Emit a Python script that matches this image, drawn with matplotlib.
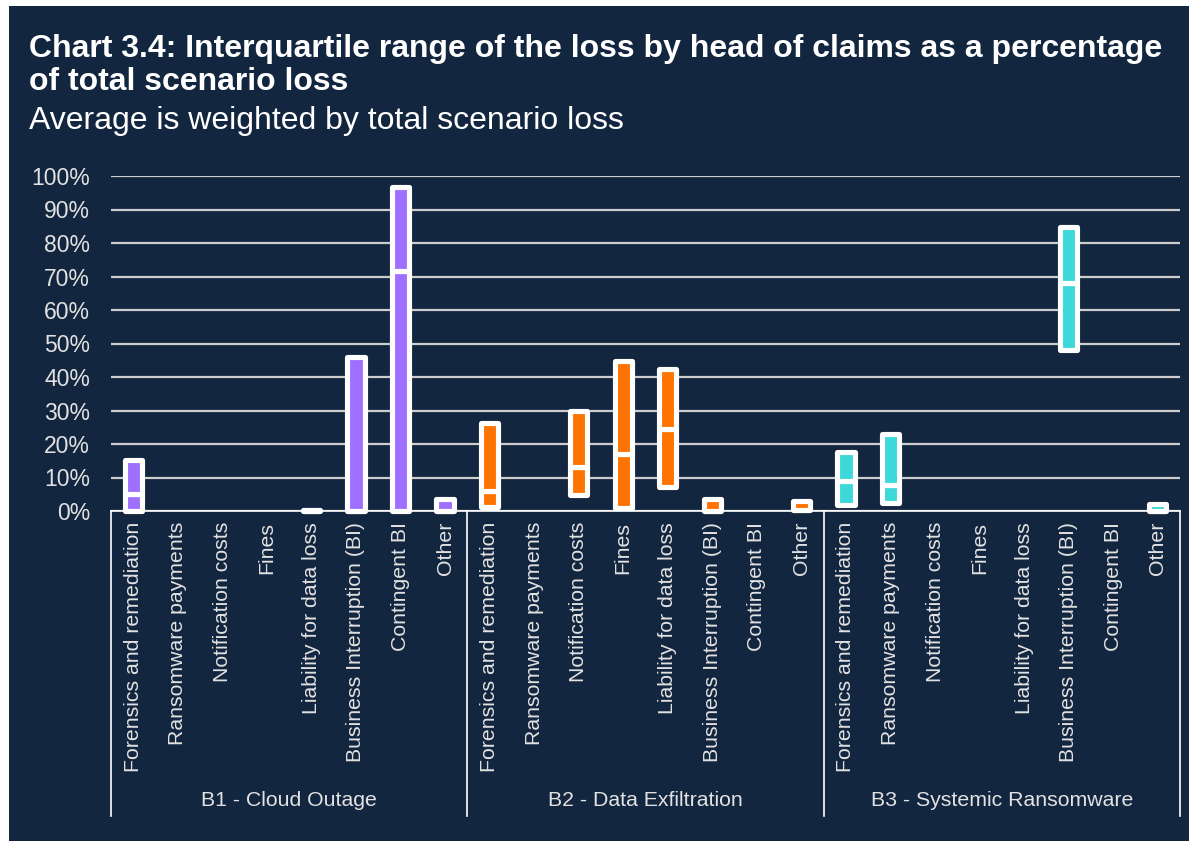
import numpy as np
import matplotlib.pyplot as plt
from matplotlib.patches import Rectangle

nan = np.nan

# --- data ---
categories = ["Forensics and remediation", "Ransomware payments", "Notification costs",
              "Fines", "Liability for data loss", "Business Interruption (BI)",
              "Contingent BI", "Other"]
scenarios = ["B1 - Cloud Outage", "B2 - Data Exfiltration", "B3 - Systemic Ransomware"]

# interquartile range (% of total scenario loss): lower quartile, median, upper quartile
b1_q1 = [0.0, nan, nan, nan, 0.0, 0.0, 0.0, 0.0]
b1_med = [5.0, nan, nan, nan, 0.0, 0.0, 71.5, 0.0]
b1_q3 = [15.3, nan, nan, nan, 0.3, 46.0, 96.8, 3.5]

b2_q1 = [1.3, nan, 4.9, 0.8, 7.3, 0.1, nan, 0.2]
b2_med = [6.1, nan, 13.2, 16.9, 24.5, 0.1, nan, 0.2]
b2_q3 = [26.2, nan, 30.0, 44.8, 42.4, 3.5, nan, 3.0]

b3_q1 = [1.8, 2.4, nan, nan, nan, 48.0, nan, 0.1]
b3_med = [9.0, 7.8, nan, nan, nan, 68.0, nan, 0.1]
b3_q3 = [17.6, 23.0, nan, nan, nan, 84.9, nan, 2.0]

colors = ["#9F70FF", "#FF7300", "#3DD8D9"]
navy = "#13263F"

plt.rcParams['font.family'] = ['Liberation Sans', 'DejaVu Sans']

fig = plt.figure(figsize=(11.89, 8.41), dpi=100)
fig.patch.set_facecolor("white")
fig.patches.append(Rectangle((9 / 1189, 0), 1 - 9 / 1189, 1 - 6 / 841,
                             transform=fig.transFigure, facecolor=navy,
                             edgecolor="none", zorder=-10))

W, H = 1189, 841
ax = fig.add_axes([111 / W, 1 - 511 / H, (1180 - 111) / W, (511 - 176) / H])
ax.set_facecolor("none")

groups = [(b1_q1, b1_med, b1_q3), (b2_q1, b2_med, b2_q3), (b3_q1, b3_med, b3_q3)]
n = len(categories)
for g, (q1, med, q3) in enumerate(groups):
    x = np.arange(n) + g * n
    q1 = np.array(q1); med = np.array(med); q3 = np.array(q3)
    keep = ~np.isnan(q1)
    kw = dict(width=0.39, color=colors[g], edgecolor="white", linewidth=3.7,
              joinstyle="round", clip_on=False, zorder=3)
    ax.bar(x[keep], (med - q1)[keep], bottom=q1[keep], **kw)
    ax.bar(x[keep], (q3 - med)[keep], bottom=med[keep], **kw)

ax.set_xlim(-0.5, 3 * n - 0.5)
ax.set_ylim(0, 100)
ax.set_yticks(np.arange(0, 101, 10))
ax.set_yticklabels([f"{v}%" for v in range(0, 101, 10)])
ax.yaxis.grid(True, color="#CDCDCD", linewidth=1.6)
ax.set_axisbelow(True)
ax.tick_params(axis="y", length=0, pad=15, labelsize=16.5, labelcolor="#E2E2E2")
ax.set_xticks(np.arange(3 * n))
ax.set_xticklabels(categories * 3, rotation=90, va="top", ha="center")
ax.tick_params(axis="x", length=0, pad=8, labelsize=15.3, labelcolor="#E2E2E2")
for s in ["left", "right", "top"]:
    ax.spines[s].set_visible(False)
ax.spines["bottom"].set_color("white")
ax.spines["bottom"].set_linewidth(1.2)
ax.spines["bottom"].set_zorder(2)

trans = ax.get_xaxis_transform()
for xs in [-0.5, n - 0.5, 2 * n - 0.5, 3 * n - 0.5]:
    ax.plot([xs, xs], [0, -0.91], color="white", lw=1.2, transform=trans, clip_on=False)
for g, name in enumerate(scenarios):
    ax.text(g * n + (n - 1) / 2, -0.863, name, transform=trans, ha="center", va="center",
            fontsize=15.3, color="#E2E2E2")

fig.text(29 / W, 1 - 57 / H, "Chart 3.4: Interquartile range of the loss by head of claims as a percentage",
         fontsize=23, fontweight="bold", color="white", va="baseline")
fig.text(29 / W, 1 - 90 / H, "of total scenario loss",
         fontsize=23, fontweight="bold", color="white", va="baseline")
fig.text(29 / W, 1 - 129 / H, "Average is weighted by total scenario loss",
         fontsize=23, color="white", va="baseline")

fig.savefig("out.png", dpi=100)
